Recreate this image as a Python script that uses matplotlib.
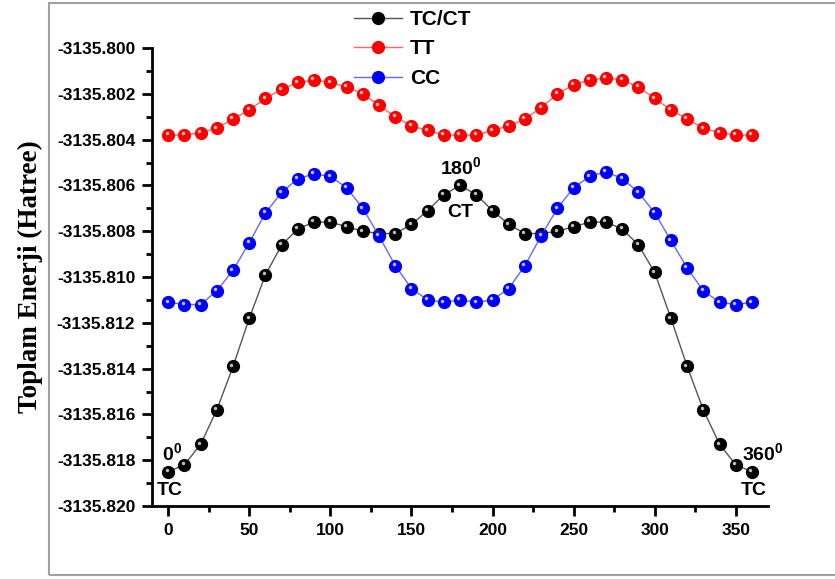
import matplotlib
matplotlib.use("Agg")
import matplotlib.pyplot as plt
import matplotlib.patches as patches
from matplotlib.transforms import offset_copy
from matplotlib.ticker import MultipleLocator, FormatStrFormatter
import numpy as np

# dihedral angle (degrees)
angles = np.arange(0, 361, 10)

# total energies (Hartree)
tc_ct = [-3135.8185, -3135.8182, -3135.8173, -3135.8158, -3135.8139, -3135.8118,
         -3135.8099, -3135.8086, -3135.8079, -3135.8076, -3135.8076, -3135.8078,
         -3135.8080, -3135.8081, -3135.8081, -3135.8077, -3135.8071, -3135.8064,
         -3135.8060, -3135.8064, -3135.8071, -3135.8077, -3135.8081, -3135.8081,
         -3135.8080, -3135.8078, -3135.8076, -3135.8076, -3135.8079, -3135.8086,
         -3135.8098, -3135.8118, -3135.8139, -3135.8158, -3135.8173, -3135.8182,
         -3135.8185]
tt = [-3135.8038, -3135.8038, -3135.8037, -3135.8035, -3135.8031, -3135.8027,
      -3135.8022, -3135.8018, -3135.8015, -3135.8014, -3135.8015, -3135.8017,
      -3135.8020, -3135.8025, -3135.8030, -3135.8034, -3135.8036, -3135.8038,
      -3135.8038, -3135.8038, -3135.8036, -3135.8034, -3135.8031, -3135.8026,
      -3135.8020, -3135.8016, -3135.8014, -3135.8013, -3135.8014, -3135.8017,
      -3135.8022, -3135.8027, -3135.8031, -3135.8035, -3135.8037, -3135.8038,
      -3135.8038]
cc = [-3135.8111, -3135.8112, -3135.8112, -3135.8106, -3135.8097, -3135.8085,
      -3135.8072, -3135.8063, -3135.8057, -3135.8055, -3135.8056, -3135.8061,
      -3135.8070, -3135.8082, -3135.8095, -3135.8105, -3135.8110, -3135.8111,
      -3135.8110, -3135.8111, -3135.8110, -3135.8105, -3135.8095, -3135.8082,
      -3135.8070, -3135.8061, -3135.8056, -3135.8054, -3135.8057, -3135.8063,
      -3135.8072, -3135.8084, -3135.8096, -3135.8106, -3135.8111, -3135.8112,
      -3135.8111]

series = [
    ("TC/CT", tc_ct, "black", "#555555", "#bbbbbb"),
    ("TT", tt, "#ff0000", "#ff6666", "#ffc0c0"),
    ("CC", cc, "#0000ff", "#6666ff", "#c0c0ff"),
]

plt.rcParams['font.family'] = ['Liberation Sans', 'DejaVu Sans']
plt.rcParams['font.weight'] = 'bold'
plt.rcParams['mathtext.fontset'] = 'custom'
plt.rcParams['mathtext.rm'] = 'Liberation Sans:bold'
plt.rcParams['mathtext.bf'] = 'Liberation Sans:bold'

fig = plt.figure(figsize=(8.35, 5.79), dpi=100)
ax = fig.add_axes([0.182, 0.126, 0.738, 0.791])

# gray outer frame
fig.patches.append(patches.Rectangle((0.0587, 0.007), 1.0, 0.988, transform=fig.transFigure,
                                     fill=False, edgecolor="#a0a0a0", linewidth=1.5))

hl = offset_copy(ax.transData, fig=fig, x=-1.2, y=1.2, units='points')
for name, vals, mc, lc, hc in series:
    ax.plot(angles, vals, color=lc, linewidth=1.0, marker='o', markersize=8.5,
            markerfacecolor=mc, markeredgecolor=mc, label=name)
    ax.plot(angles, vals, linestyle='none', marker='o', markersize=2.5,
            markerfacecolor=hc, markeredgecolor='none', transform=hl)

ax.set_xlim(-10, 370)
ax.set_ylim(-3135.820, -3135.800)
ax.xaxis.set_major_locator(MultipleLocator(50))
ax.xaxis.set_minor_locator(MultipleLocator(25))
ax.yaxis.set_major_locator(MultipleLocator(0.002))
ax.yaxis.set_minor_locator(MultipleLocator(0.001))
ax.yaxis.set_major_formatter(FormatStrFormatter('%.3f'))

for s in ['top', 'right']:
    ax.spines[s].set_visible(False)
for s in ['left', 'bottom']:
    ax.spines[s].set_linewidth(2)
ax.tick_params(which='major', direction='out', length=7, width=2, labelsize=12.5, pad=5)
ax.tick_params(which='minor', direction='out', length=4, width=2)
for lab in ax.get_xticklabels() + ax.get_yticklabels():
    lab.set_fontweight('bold')

ax.set_ylabel('Toplam Enerji (Hatree)', family=['Liberation Serif'], fontsize=19.5,
              fontweight='bold', labelpad=10)

# point labels
kw = dict(ha='center', va='center', fontsize=14, fontweight='bold')
ax.text(2.5, -3135.8177, r'$\mathbf{0^{0}}$', **kw)
ax.text(1.2, -3135.8193, 'TC', **kw)
ax.text(180.5, -3135.8052, r'$\mathbf{180^{0}}$', **kw)
ax.text(180, -3135.8072, 'CT', **kw)
ax.text(366.6, -3135.8177, r'$\mathbf{360^{0}}$', **kw)
ax.text(361, -3135.8193, 'TC', **kw)

handles, labels = ax.get_legend_handles_labels()
ax.legend(handles, labels, loc='upper left', bbox_to_anchor=(354 / 835, 1 - 10 / 579),
          bbox_transform=fig.transFigure, frameon=False, prop={'weight': 'bold', 'size': 15},
          handlelength=2.3, handletextpad=0.4, labelspacing=0.5, borderaxespad=0,
          borderpad=0)

fig.savefig('out.png', dpi=100)
